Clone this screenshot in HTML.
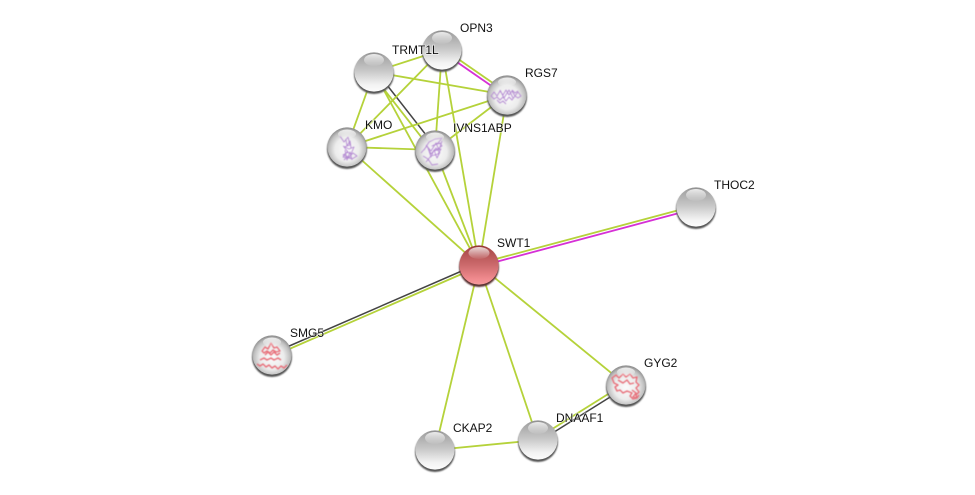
<!DOCTYPE html>
<html><head><meta charset="utf-8"><style>
html,body{margin:0;padding:0;background:#fff;width:975px;height:495px;overflow:hidden}
svg{display:block}
text{font-family:"Liberation Sans",sans-serif;font-size:12px;fill:#111;stroke:#fff;stroke-width:1.5px;stroke-opacity:.6;paint-order:stroke}
.g{stroke:#b5d23a;stroke-width:1.8;fill:none}
.d{stroke:#444;stroke-width:1.5;fill:none}
.m{stroke:#d630d6;stroke-width:1.8;fill:none}
.p{fill:none;stroke:#b48ad2;stroke-width:.9;stroke-linejoin:round;filter:url(#soft)}
.r{fill:none;stroke:#e8707a;stroke-width:1.4;stroke-linejoin:round;filter:url(#soft)}
</style></head><body>
<svg width="975" height="495" viewBox="0 0 975 495" xmlns="http://www.w3.org/2000/svg">
<defs>
<filter id="soft" x="-20%" y="-20%" width="140%" height="140%"><feGaussianBlur stdDeviation=".5"/></filter>
<filter id="blur" x="-20%" y="-20%" width="140%" height="140%"><feGaussianBlur stdDeviation=".9"/></filter>
<linearGradient id="grey" x1="0" y1="0" x2="0" y2="1"><stop offset="0" stop-color="#8a8a8a"/><stop offset=".08" stop-color="#a4a4a4"/><stop offset=".45" stop-color="#c6c6c6"/><stop offset=".82" stop-color="#f2f2f2"/><stop offset="1" stop-color="#fcfcfc"/></linearGradient>
<radialGradient id="clear" cx=".5" cy=".56" r=".56"><stop offset="0" stop-color="#fbfbfb"/><stop offset=".55" stop-color="#ececec"/><stop offset=".82" stop-color="#c0c0c0"/><stop offset="1" stop-color="#888"/></radialGradient>
<linearGradient id="red" x1="0" y1="0" x2="0" y2="1"><stop offset="0" stop-color="#8f2f2f"/><stop offset=".1" stop-color="#ac4c4c"/><stop offset=".5" stop-color="#cc6a6c"/><stop offset=".85" stop-color="#f08a8e"/><stop offset="1" stop-color="#f59a9c"/></linearGradient>
<linearGradient id="hl" x1="0" y1="0" x2="0" y2="1"><stop offset="0" stop-color="#fff" stop-opacity=".8"/><stop offset="1" stop-color="#fff" stop-opacity=".05"/></linearGradient>
<g id="ball">
<circle cx="0" cy="2" r="20" fill="#555" filter="url(#blur)"/>
<circle r="19.6" fill="url(#grey)"/>
<ellipse cx="0" cy="-12" rx="10" ry="6" fill="url(#hl)"/>
</g>
<g id="sball">
<circle cx="0" cy="2" r="20" fill="#555" filter="url(#blur)"/>
<circle r="19.6" fill="url(#clear)"/>
</g>
<g id="shine"><ellipse cx="0" cy="-13" rx="9" ry="4.500" fill="url(#hl)"/></g>
<g id="redball">
<circle cx="0" cy="2" r="20" fill="#5a3030" filter="url(#blur)"/>
<circle r="19.6" fill="url(#red)"/>
<ellipse cx="0" cy="-12" rx="10.5" ry="6" fill="url(#hl)"/>
</g>
</defs>

<!-- edges -->
<line class="g" x1="374" y1="72" x2="442" y2="50"/>
<line class="g" x1="374" y1="72" x2="507" y2="95"/>
<line class="g" x1="374" y1="72" x2="347" y2="147"/>
<line class="g" x1="372" y1="74" x2="433" y2="152"/>
<line class="d" x1="376" y1="71" x2="437" y2="149"/>
<line class="g" x1="374" y1="72" x2="479" y2="265"/>
<line class="g" x1="443" y1="48.500" x2="508" y2="93.500"/>
<line class="m" x1="441" y1="51" x2="506" y2="96"/>
<line class="g" x1="442" y1="50" x2="347" y2="147"/>
<line class="g" x1="442" y1="50" x2="435" y2="150"/>
<line class="g" x1="442" y1="50" x2="479" y2="265"/>
<line class="g" x1="507" y1="95" x2="347" y2="147"/>
<line class="g" x1="507" y1="95" x2="435" y2="150"/>
<line class="g" x1="507" y1="95" x2="479" y2="265"/>
<line class="g" x1="347" y1="147" x2="435" y2="150"/>
<line class="g" x1="347" y1="147" x2="479" y2="265"/>
<line class="g" x1="435" y1="150" x2="479" y2="265"/>
<line class="g" x1="479" y1="263.500" x2="696" y2="205.500"/>
<line class="m" x1="479" y1="266.500" x2="696" y2="208.500"/>
<line class="d" x1="479" y1="263.500" x2="272" y2="353.500"/>
<line class="g" x1="479" y1="266.500" x2="272" y2="356.500"/>
<line class="g" x1="479" y1="265" x2="626" y2="385"/>
<line class="g" x1="479" y1="265" x2="538" y2="440"/>
<line class="g" x1="479" y1="265" x2="435" y2="450"/>
<line class="g" x1="435" y1="450" x2="538" y2="440"/>
<line class="g" x1="537" y1="438.500" x2="625" y2="383.500"/>
<line class="d" x1="539" y1="441.500" x2="627" y2="386.500"/>

<!-- nodes -->
<use href="#ball" x="374" y="72"/>
<use href="#ball" x="442" y="50"/>
<use href="#sball" x="507" y="95"/>
<use href="#sball" x="347" y="147"/>
<use href="#sball" x="435" y="150"/>
<use href="#ball" x="696" y="207"/>
<use href="#sball" x="272" y="355"/>
<use href="#sball" x="626" y="385"/>
<use href="#ball" x="538" y="440"/>
<use href="#ball" x="435" y="450"/>
<use href="#redball" x="479" y="265"/>

<!-- structures -->
<path class="p" d="M491 96l3-4 3 4 3-5 3 4 3-5 3 5 3-4 3 5 3-4 3 4-3 2-3-2-3 4-3-3-3 4-3-4-3 3-3-3-3 2-3-3zM497 100l3 3 3-2 3 3M512 90l3 3 3-2M500 90l4 8 5-8 4 8"/>
<path class="p" d="M340 136l4 6 4-5 2 8-6 2 4 5-5 3 6 2 4-4 4 3-5 3-5-2-3 3M345 150l2 10 3-8 2 8M343 146l6 3 5-2-3 7-4-2-4 5 8 1M346 140l1 6 3-5 1 7"/>
<path class="p" d="M424 150l5-8 6-3 7-1-4 5-6 3 8-3 2 3-8 5 7-2-3 5-7 2-5 6M428 148l3 9 3-7 3 8 3-6M423 156l5 3 4 6 6-1M426 145l5 6 5-8 3 7 3-9M421 153l6-7 4 8 5-6 4 5"/>
<path class="r" d="M262 351l3-4 3 2 3-6 3 5 3-1 3 4-4 1-3-2-3 3-3-2-3 2zM257 364l3 2 3-2 3 3 3-2 3 3 3-2 3 3 3-3 3 2 3-3M265 355l3-3 3 3 3-3 3 3 3-2M260 360l4-2 3 2 4-2 3 2 4-2 3 2"/>
<path class="r" d="M612 378l4-3 3 3 4-4 3 3 4-3 3 4 4-1-1 5 3 3-3 3 3 4-3 3 1 3-4 1-3-3 2-3-5-2-4 2-3-3-3 1-2-4 3-2-4-2zM618 380l5 3 4-3 3 4 4-1M632 390l4 3-3 4 4 1 2-3"/>

<use href="#shine" x="507" y="95"/>
<use href="#shine" x="347" y="147"/>
<use href="#shine" x="435" y="150"/>
<use href="#shine" x="272" y="355"/>
<use href="#shine" x="626" y="385"/>

<!-- labels -->
<text x="497" y="247">SWT1</text>
<text x="392" y="54">TRMT1L</text>
<text x="460" y="32">OPN3</text>
<text x="525" y="77">RGS7</text>
<text x="365" y="129">KMO</text>
<text x="453" y="132">IVNS1ABP</text>
<text x="714" y="189">THOC2</text>
<text x="290" y="337">SMG5</text>
<text x="644" y="367">GYG2</text>
<text x="556" y="422">DNAAF1</text>
<text x="453" y="432">CKAP2</text>
</svg>
</body></html>
